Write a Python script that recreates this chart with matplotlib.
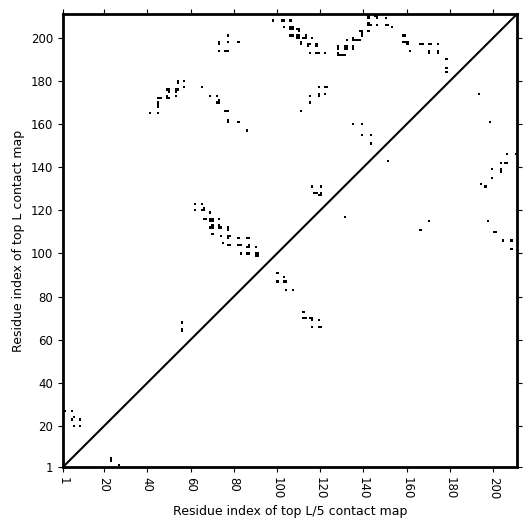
import numpy as np
import matplotlib
matplotlib.use("Agg")
import matplotlib.pyplot as plt

L = 211

# contacts above the diagonal (x, y)
upper_x = [54, 54, 57, 57, 65, 69, 53, 53, 54, 53, 49, 50, 50, 49, 49, 50, 45, 46, 45, 45, 45, 41, 45,
           77, 73, 73, 77, 82, 73, 76, 77, 72, 73, 72, 73, 76, 77, 77, 77, 82, 86,
           98, 102, 103, 106, 103, 106, 106, 107, 107, 109, 110, 110, 106, 107, 109, 109, 110, 110,
           113, 113, 112, 116, 111, 111, 114, 115, 114, 118, 118, 115, 118, 119, 122,
           128, 128, 131, 131, 132, 132, 135, 135, 128, 128, 129, 130, 131,
           132, 135, 135, 136, 137, 138, 138, 139, 139, 139,
           142, 142, 145, 146, 146, 150, 142, 142, 143, 146, 150, 151, 153, 142,
           158, 159, 158, 159, 160, 160, 161, 166, 167, 170, 171, 174, 170, 170, 174, 174,
           178, 178, 178,
           111, 115, 115, 119, 119, 119, 122, 123, 122, 135, 139, 139, 143, 143,
           116, 120, 117, 118, 120, 120, 119,
           62, 65, 62, 66, 65, 66, 69, 66, 67, 69, 70, 69, 70, 70, 69, 70, 70,
           73, 73, 73, 74, 77, 77, 74, 77, 78, 77, 75, 77, 78,
           82, 86, 87, 82, 83, 87, 86, 87, 90, 83, 86, 87, 90, 91, 91, 90,
           56, 56, 56, 2, 5, 6, 5, 6, 9, 6, 9]
upper_y = [179, 180, 180, 177, 177, 173, 175, 176, 176, 173, 176, 176, 175, 173, 172, 172, 172, 172, 168, 169, 170, 165, 165,
           201, 197, 198, 198, 198, 194, 194, 194, 173, 171, 170, 170, 166, 166, 161, 162, 161, 157,
           208, 208, 208, 208, 205, 204, 205, 204, 205, 204, 204, 203, 201, 201, 200, 201, 200, 201,
           201, 200, 200, 200, 197, 198, 197, 197, 196, 196, 197, 193, 193, 193, 193,
           195, 196, 195, 196, 195, 196, 195, 196, 192, 193, 192, 192, 192,
           199, 199, 200, 199, 199, 199, 203, 203, 202, 201,
           209, 210, 210, 210, 209, 209, 207, 206, 206, 206, 206, 206, 205, 203,
           201, 201, 198, 198, 198, 197, 194, 197, 197, 197, 197, 197, 193, 194, 193, 194,
           190, 186, 184,
           166, 173, 170, 173, 174, 177, 177, 177, 174, 160, 160, 155, 155, 151,
           131, 131, 128, 128, 128, 127, 127,
           123, 123, 120, 121, 120, 120, 119, 116, 116, 116, 116, 115, 115, 113, 112, 112, 109,
           116, 113, 112, 112, 111, 112, 108, 108, 108, 107, 105, 104, 104,
           107, 107, 107, 104, 104, 104, 103, 103, 103, 100, 100, 100, 100, 100, 99, 99,
           68, 64, 65, 27, 27, 24, 23, 24, 23, 20, 20]

# contacts below the diagonal (x, y)
lower_x = [100, 103, 100, 103, 104, 104, 107, 112, 112, 113, 115, 116, 116, 119, 116, 119, 120,
           23, 23, 27, 131, 151, 206, 210, 203, 205, 206, 199, 203, 203, 199, 194, 196,
           170, 166, 197, 200, 201, 204, 208, 208, 193, 198]
lower_y = [91, 89, 87, 87, 87, 83, 83, 73, 70, 70, 70, 70, 69, 69, 66, 66, 66,
           4, 5, 2, 117, 143, 146, 146, 142, 142, 142, 139, 138, 139, 135, 132, 131,
           115, 111, 115, 110, 110, 106, 106, 102, 174, 161]

ticks = [1, 20, 40, 60, 80, 100, 120, 140, 160, 180, 200]

cmap = np.zeros((L, L))
cmap[np.array(upper_y) - 1, np.array(upper_x) - 1] = 1
cmap[np.array(lower_y) - 1, np.array(lower_x) - 1] = 1

fig = plt.figure(figsize=(5.31, 5.31), dpi=100)
ax = fig.add_axes([0.1186, 0.1205, 0.855, 0.853])
ax.imshow(cmap, cmap="Greys", vmin=0, vmax=1, origin="lower",
          interpolation="nearest", extent=(0.5, L + 0.5, 0.5, L + 0.5), aspect="auto")
ax.plot([1, L], [1, L], color="black", lw=1.5)
ax.set_xlim(1, L)
ax.set_ylim(1, L)
ax.set_xticks(ticks)
ax.set_yticks(ticks)
ax.set_xticklabels([str(t) for t in ticks], rotation=-90)
ax.tick_params(top=True, right=True, direction="out", labelsize=8.5)
for s in ax.spines.values():
    s.set_linewidth(2)
ax.set_xlabel("Residue index of top L/5 contact map", fontsize=9, labelpad=4)
ax.set_ylabel("Residue index of top L contact map", fontsize=9)

fig.savefig("out.png", dpi=100)
